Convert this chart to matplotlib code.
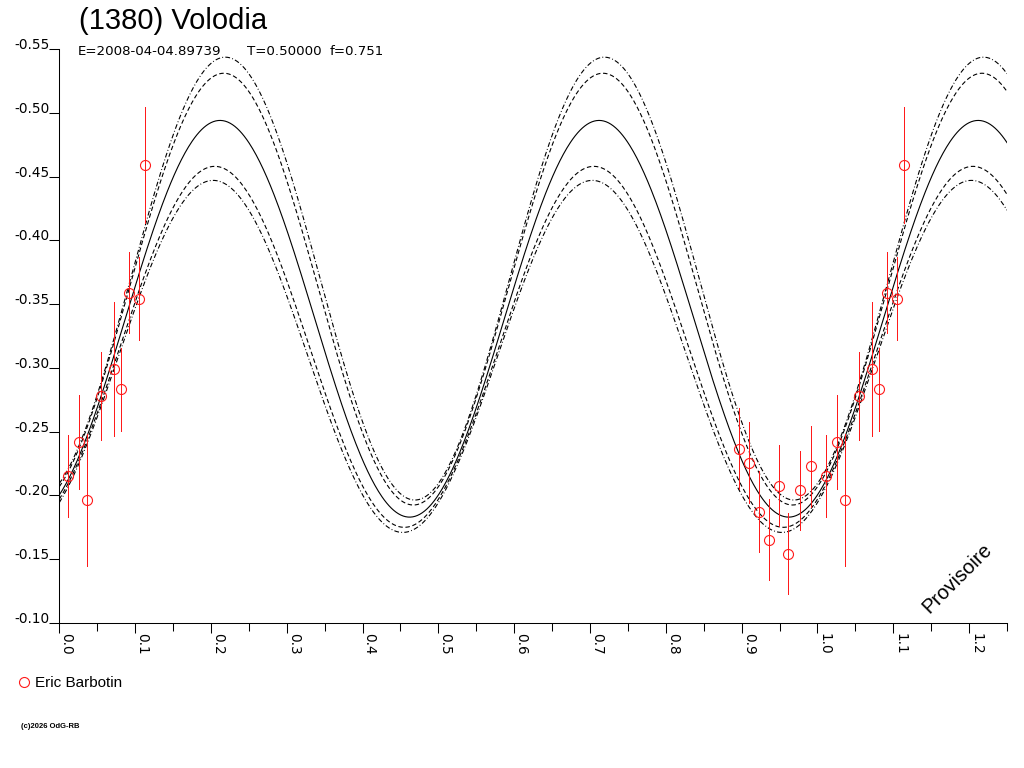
"""
plot.py - lightcurve of (1380) Volodia folded on T=0.5 d, with the harmonic fit.
Writes out.png (1024x768).
"""

import numpy as np
import matplotlib
matplotlib.use("Agg")
import matplotlib.pyplot as plt
from matplotlib import rcParams
from matplotlib.lines import Line2D
from matplotlib.ticker import MultipleLocator, FormatStrFormatter

# observations (Eric Barbotin): phase, relative magnitude, 1-sigma error
PHASE = [0.0119, 0.0264, 0.0369, 0.0554, 0.0718, 0.0810, 0.0923, 0.1051, 0.1135,
         0.8971, 0.9103, 0.9235, 0.9367, 0.9491, 0.9618, 0.9768, 0.9921]
MAG = [-0.2152, -0.2421, -0.1964, -0.2779, -0.2993, -0.2831, -0.3589, -0.3542, -0.4589,
       -0.2366, -0.2256, -0.1872, -0.1653, -0.2076, -0.1543, -0.2040, -0.2228]
MAG_ERR = [0.032, 0.037, 0.052, 0.0345, 0.0525, 0.0324, 0.0317, 0.0324, 0.0455,
           0.0317, 0.0317, 0.0319, 0.0319, 0.0317, 0.0317, 0.0311, 0.032]

# fitted curves (2nd harmonic): brightest mag, faintest mag, phase of maximum
CURVE_MAX = [-0.5436, -0.531, -0.494, -0.458, -0.447]
CURVE_MIN = [-0.1964, -0.1925, -0.183, -0.175, -0.171]
CURVE_PEAK = [0.219, 0.217, 0.212, 0.205, 0.203]
CURVE_STYLE = ["dashdot", "dashed", "solid", "dashed", "dashdot"]

TITLE = "(1380) Volodia"
INFO = ["E=2008-04-04.89739", "T=0.50000", "f=0.751"]
OBSERVER = "Eric Barbotin"
PHASE_MAX = 1.25

DASHES = {"solid": (None, None), "dashed": (0, (4.0, 2.4)),
          "dashdot": (0, (4.3, 2.0, 0.8, 2.0))}
RED = "#ff1a1a"


def setup_font():
    rcParams["font.family"] = "DejaVu Sans"
    rcParams["axes.unicode_minus"] = False


def draw_fit(ax):
    ph = np.linspace(0, PHASE_MAX, 800)
    for mx, mn, pk, st in zip(CURVE_MAX, CURVE_MIN, CURVE_PEAK, CURVE_STYLE):
        mid = 0.5 * (mx + mn)
        amp = 0.5 * (mn - mx)
        y = mid - amp * np.cos(4 * np.pi * (ph - pk))
        ln, = ax.plot(ph, y, color="black", lw=0.8)
        if st != "solid":
            ln.set_linestyle(DASHES[st])


def draw_points(ax):
    ph = np.asarray(PHASE)
    mag = np.asarray(MAG)
    err = np.asarray(MAG_ERR)
    for shift in (0.0, 1.0):
        p = ph + shift
        k = p <= PHASE_MAX
        bars = ax.vlines(p[k], mag[k] - err[k], mag[k] + err[k], colors=RED,
                         lw=0.6, zorder=3)
        bars.set_antialiased(False)
        ax.plot(p[k], mag[k], "o", ms=7.2, mfc="none", mec=RED, mew=0.8,
                zorder=4)


def main():
    setup_font()
    fig = plt.figure(figsize=(10.24, 7.68), dpi=100, facecolor="white")
    ax = fig.add_axes([0.0579, 0.1888, 0.9255, 0.7474])

    draw_fit(ax)
    draw_points(ax)

    ax.set_xlim(0, PHASE_MAX)
    ax.set_ylim(-0.10, -0.55)
    for s in ("top", "right"):
        ax.spines[s].set_visible(False)
    for s in ("left", "bottom"):
        ax.spines[s].set_linewidth(0.75)

    ax.xaxis.set_major_locator(MultipleLocator(0.1))
    ax.xaxis.set_minor_locator(MultipleLocator(0.05))
    ax.xaxis.set_major_formatter(FormatStrFormatter("%.1f"))
    ax.yaxis.set_major_locator(MultipleLocator(0.05))
    ax.yaxis.set_major_formatter(FormatStrFormatter("%.2f"))
    ax.tick_params(axis="x", which="major", length=7.2, width=0.75, pad=0,
                   labelsize=9.8, rotation=270)
    ax.tick_params(axis="x", which="minor", length=6.0, width=0.75)
    ax.tick_params(axis="y", length=7.2, width=0.75, pad=0, labelsize=9.8)
    for lab in ax.get_xticklabels():
        lab.set_horizontalalignment("left")
        lab.set_verticalalignment("top")
    for lab in ax.get_yticklabels():
        lab.set_verticalalignment("baseline")

    fig.text(0.077, 0.9616, TITLE, fontsize=21, family="Liberation Sans")
    for x, s in zip([0.0762, 0.2409, 0.3215], INFO):
        fig.text(x, 0.9284, s, fontsize=9.6)

    ax.text(0.935, 0.2467, "Provisoire", transform=fig.transFigure, rotation=45,
            ha="center", va="center", fontsize=14.5, family="Liberation Sans")

    h = Line2D([0], [0], marker="o", ls="", ms=7.2, mfc="none", mec=RED, mew=0.8)
    fig.legend(handles=[h], labels=[OBSERVER], loc="center left",
               bbox_to_anchor=(0.016, 1 - 683 / 768), frameon=False,
               borderpad=0, borderaxespad=0, handlelength=1.0, handletextpad=0.25,
               prop={"family": "Liberation Sans", "size": 11})

    fig.text(0.0202, 0.052, "(c)2026 OdG-RB", fontsize=5.5, fontweight="bold",
             family="Liberation Sans")

    fig.savefig("out.png", dpi=100, facecolor="white")
    plt.close(fig)
    return 0


if __name__ == "__main__":
    main()
